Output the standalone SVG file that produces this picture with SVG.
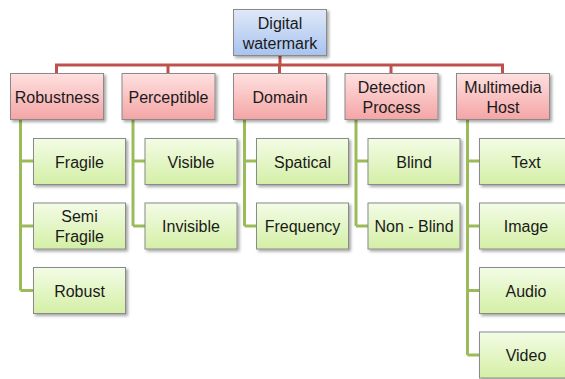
<svg xmlns="http://www.w3.org/2000/svg" width="565" height="379" viewBox="0 0 565 379">
<style>
.box{stroke:#8a8a8a;stroke-width:1;filter:url(#sh)}
.root{fill:url(#gb)}
.cat{fill:url(#gr)}
.leaf{fill:url(#gg)}
text{font-family:"Liberation Sans",Arial,sans-serif;font-size:16px;fill:#1a1a1a;text-anchor:middle}
.red{stroke:#c0504d;stroke-width:3;fill:none}
.grn{stroke:#9bbb59;stroke-width:3;fill:none}
</style>
<defs>
<linearGradient id="gb" x1="0" y1="0" x2="0" y2="1"><stop offset="0" stop-color="#dfe8f8"/><stop offset="1" stop-color="#a8c3ef"/></linearGradient>
<linearGradient id="gr" x1="0" y1="0" x2="0" y2="1"><stop offset="0" stop-color="#ffe0e0"/><stop offset="1" stop-color="#f4a5a5"/></linearGradient>
<linearGradient id="gg" x1="0" y1="0" x2="0" y2="1"><stop offset="0" stop-color="#f3fce6"/><stop offset="1" stop-color="#d4efa6"/></linearGradient>
<filter id="sh" x="-10%" y="-10%" width="130%" height="140%"><feDropShadow dx="2" dy="2" stdDeviation="1.5" flood-color="#000" flood-opacity="0.35"/></filter>
</defs>
<g id="connectors">
<path class="red" d="M280 55V65M56.5 73V65H502.5V73M168 65V73M279.5 65V73M391 65V73"/>
<path class="grn" d="M20.5 119V290.5M20.5 161H33M20.5 226H33M20.5 290.5H33"/>
<path class="grn" d="M133 119V226M133 161H145M133 226H145"/>
<path class="grn" d="M244.5 119V226M244.5 161H257M244.5 226H257"/>
<path class="grn" d="M356 119V226M356 161H368M356 226H368"/>
<path class="grn" d="M467.5 119V355M467.5 161H480M467.5 226H480M467.5 290.5H480M467.5 355H480"/>
</g>
<g id="root"><rect class="box root" x="233.5" y="9.5" width="93" height="46"/><text x="280" y="28.5">Digital</text><text x="280" y="48.5">watermark</text></g>
<g id="robustness"><rect class="box cat" x="10.5" y="73.5" width="93" height="46"/><text x="57" y="102.5">Robustness</text></g>
<g id="perceptible"><rect class="box cat" x="122" y="73.5" width="93" height="46"/><text x="168.5" y="102.5">Perceptible</text></g>
<g id="domain"><rect class="box cat" x="233.5" y="73.5" width="93" height="46"/><text x="280" y="102.5">Domain</text></g>
<g id="detection"><rect class="box cat" x="345" y="73.5" width="93" height="46"/><text x="391.5" y="92.5">Detection</text><text x="391.5" y="112.5">Process</text></g>
<g id="multimedia"><rect class="box cat" x="456.5" y="73.5" width="93" height="46"/><text x="503" y="92.5">Multimedia</text><text x="503" y="112.5">Host</text></g>
<g id="fragile"><rect class="box leaf" x="33.5" y="138.5" width="92" height="46"/><text x="79.5" y="167.5">Fragile</text></g>
<g id="semifragile"><rect class="box leaf" x="33.5" y="203" width="92" height="46"/><text x="79.5" y="221.5">Semi</text><text x="79.5" y="241.5">Fragile</text></g>
<g id="robust"><rect class="box leaf" x="33.5" y="267.5" width="92" height="46"/><text x="79.5" y="296.5">Robust</text></g>
<g id="visible"><rect class="box leaf" x="145" y="138.5" width="92" height="46"/><text x="191" y="167.5">Visible</text></g>
<g id="invisible"><rect class="box leaf" x="145" y="203" width="92" height="46"/><text x="191" y="232">Invisible</text></g>
<g id="spatical"><rect class="box leaf" x="256.5" y="138.5" width="92" height="46"/><text x="302.5" y="167.5">Spatical</text></g>
<g id="frequency"><rect class="box leaf" x="256.5" y="203" width="92" height="46"/><text x="302.5" y="232">Frequency</text></g>
<g id="blind"><rect class="box leaf" x="368" y="138.5" width="92" height="46"/><text x="414" y="167.5">Blind</text></g>
<g id="nonblind"><rect class="box leaf" x="368" y="203" width="92" height="46"/><text x="414" y="232">Non - Blind</text></g>
<g id="text"><rect class="box leaf" x="479.5" y="138.5" width="92" height="46"/><text x="526" y="167.5">Text</text></g>
<g id="image"><rect class="box leaf" x="479.5" y="203" width="92" height="46"/><text x="526" y="232">Image</text></g>
<g id="audio"><rect class="box leaf" x="479.5" y="267.5" width="92" height="46"/><text x="526" y="296.5">Audio</text></g>
<g id="video"><rect class="box leaf" x="479.5" y="332" width="92" height="46"/><text x="526" y="361">Video</text></g>
</svg>
